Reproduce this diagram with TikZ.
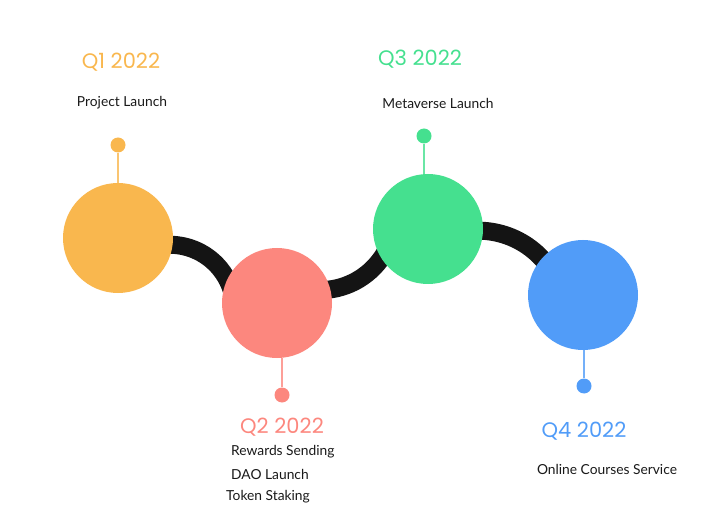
\documentclass[tikz,border=0pt]{standalone}
\usepackage{fontspec}
\setmainfont{Lato}
\newfontfamily\headfont{Poppins}
\definecolor{qorange}{HTML}{F9B74E}
\definecolor{qred}{HTML}{FC877E}
\definecolor{qgreen}{HTML}{45E08F}
\definecolor{qblue}{HTML}{519CF8}
\definecolor{bandblack}{HTML}{141414}
\begin{document}
\begin{tikzpicture}[x=1pt,y=-1pt,
  stage/.style={circle,fill=#1,minimum size=110pt,inner sep=0pt},
  pin/.style={circle,fill=#1,minimum size=15pt,inner sep=0pt},
  stem/.style={draw=#1!80,line width=1.6pt},
  band/.style={draw=bandblack,line width=18pt},
  quarter/.style={font=\headfont\fontsize{21}{24}\selectfont,text=#1},
  item/.style={font=\fontsize{13.8}{16}\selectfont,text=black!90,inner sep=0pt}]
\useasboundingbox (0,0) rectangle (711,518);

% connecting bands (drawn first, the stage discs overlap their ends);
% the y axis points down, so angles run clockwise
\coordinate (b1) at (164,245);
\coordinate (b2) at (307,289);
\coordinate (b3) at (463,232);
\draw[band] (b1) arc[start angle=-95,end angle=0,radius=65];
\draw[band] (b2) arc[start angle=100,end angle=0,radius=75];
\draw[band] (b3) arc[start angle=-100,end angle=-20,radius=87];

% stage discs
\node[stage=qorange] (s1) at (118,238) {};
\node[stage=qred]    (s2) at (277,303) {};
\node[stage=qgreen]  (s3) at (428,229) {};
\node[stage=qblue]   (s4) at (583,295) {};

% pins
\node[pin=qorange] (p1) at (118,145) {};
\node[pin=qred]    (p2) at (282,395) {};
\node[pin=qgreen]  (p3) at (424,136) {};
\node[pin=qblue]   (p4) at (584,386) {};
\draw[stem=qorange] (p1) -- (p1 |- s1.north);
\draw[stem=qred]    (p2) -- (p2 |- s2.south);
\draw[stem=qgreen]  (p3) -- (p3 |- s3.north);
\draw[stem=qblue]   (p4) -- (p4 |- s4.south);

% labels
\node[quarter=qorange] (q1) at (121,62) {Q1 2022};
\node[item] (t1) at (122,103) {Project Launch};

\node[quarter=qgreen] (q3) at (420,59) {Q3 2022};
\node[item] (t3) at (438,103) {Metaverse Launch};

\node[quarter=qred] (q2) at (282,427) {Q2 2022};
\node[item,anchor=west] (t2a) at (231,452) {Rewards Sending};
\node[item,anchor=west] (t2b) at (231,474) {DAO Launch};
\node[item,anchor=west] (t2c) at (226,497) {Token Staking};

\node[quarter=qblue] (q4) at (584,431) {Q4 2022};
\node[item] (t4) at (607,469) {Online Courses Service};
\end{tikzpicture}
\end{document}
